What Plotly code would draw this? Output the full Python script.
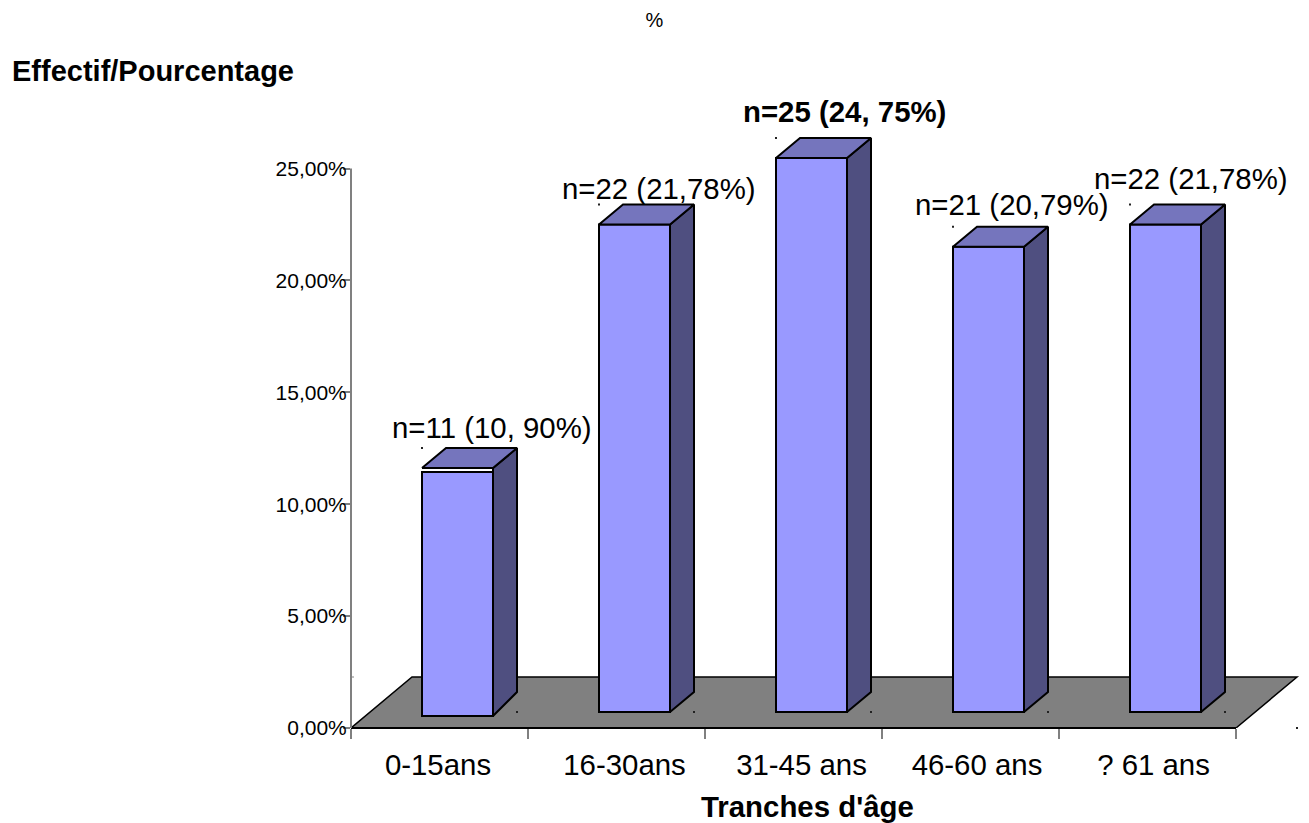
import plotly.graph_objects as go

# ---- data ----
categories = ["0-15ans", "16-30ans", "31-45 ans", "46-60 ans", "? 61 ans"]
percent = [10.90, 21.78, 24.75, 20.79, 21.78]
labels = ["n=11 (10, 90%)", "n=22 (21,78%)", "<b>n=25 (24, 75%)</b>", "n=21 (20,79%)", "n=22 (21,78%)"]
y_ticks = [0, 5, 10, 15, 20, 25]
y_tick_text = ["0,00%", "5,00%", "10,00%", "15,00%", "20,00%", "25,00%"]

# ---- geometry (pixels of the page and the 3D look) ----
W, H = 1309, 823
L, R, T, B = 351, 9, 112, 95
PX_PER_CAT = 177.0
PX_PER_PCT = 22.38
plot_w, plot_h = W - L - R, H - T - B
x_range = [-0.5, -0.5 + plot_w / PX_PER_CAT]
y_range = [0, plot_h / PX_PER_PCT]

bar_width = 71 / PX_PER_CAT
bar_offset = -17.5 / PX_PER_CAT
depth_x = 24 / PX_PER_CAT
depth_y = 20 / PX_PER_PCT
floor_x = 61 / PX_PER_CAT
floor_y = 51 / PX_PER_PCT
base_level = 16 / PX_PER_PCT          # bars stand in the middle of the floor
first_bar_drop = 4 / PX_PER_PCT       # the first front face sits slightly lower

label_dx = [34, 24, 33, 23, 25]
label_dy = [41, 36, 47, 42, 46]
tick_label_dx = [-1.5, 8, 8, 6.5, 6]

FRONT, SIDE, TOP, FLOOR = "#9999FF", "#4F4F80", "#7575BD", "#808080"
FONT = "Liberation Sans"
BIG = 29.4


def px_x(p):
    return (p - L) / plot_w


def px_y(p):
    return (H - B - p) / plot_h


fig = go.Figure()

bases = [base_level - (first_bar_drop if i == 0 else 0) for i in range(len(percent))]
fig.add_trace(go.Bar(
    x=categories, y=percent, base=bases, width=bar_width, offset=bar_offset,
    marker=dict(color=FRONT, line=dict(color="black", width=2)),
    hoverinfo="skip", showlegend=False,
))

side_x, side_y, top_x, top_y, dot_x, dot_y = [], [], [], [], [], []
for i, v in enumerate(percent):
    left = i + bar_offset
    right = left + bar_width
    top = base_level + v
    side_x += [right, right + depth_x, right + depth_x, right, right, None]
    side_y += [bases[i], base_level + depth_y, top + depth_y, top, bases[i], None]
    top_x += [left, left + depth_x, right + depth_x, right, left, None]
    top_y += [top, top + depth_y, top + depth_y, top, top, None]
    dot_x += [left, right + depth_x]
    dot_y += [top + depth_y, base_level]

for xs, ys, col in ((side_x, side_y, SIDE), (top_x, top_y, TOP)):
    fig.add_trace(go.Scatter(
        x=xs, y=ys, xaxis="x2", yaxis="y", mode="lines", fill="toself", fillcolor=col,
        line=dict(color="black", width=2), hoverinfo="skip", showlegend=False,
    ))

x0, x1 = -0.5, len(categories) - 0.5
dot_x += [x1 + floor_x]
dot_y += [0]
fig.add_trace(go.Scatter(
    x=dot_x, y=dot_y, xaxis="x2", yaxis="y", mode="markers", cliponaxis=False,
    marker=dict(color="#222222", size=2, symbol="square", line=dict(width=0)),
    hoverinfo="skip", showlegend=False,
))

floor_path = (f"M {x0} 0 L {x0 + floor_x} {floor_y} L {x1 + floor_x} {floor_y} "
              f"L {x1} 0 Z")
shapes = [
    dict(type="path", xref="x2", yref="y", path=floor_path, fillcolor=FLOOR,
         line=dict(color="black", width=1.5), layer="below"),
    dict(type="line", xref="x2", yref="paper", x0=x0, x1=x1, y0=0, y1=0,
         line=dict(color="black", width=2)),
    dict(type="line", xref="paper", yref="y", x0=0, x1=0, y0=0, y1=max(y_ticks),
         line=dict(color="#808080", width=2)),
    dict(type="line", xref="x2", yref="y", x0=x0, x1=x0 + 3 / PX_PER_CAT,
         y0=floor_y, y1=floor_y, line=dict(color="#808080", width=1)),
]

annotations = []
for i, (txt, dx, dy) in enumerate(zip(labels, label_dx, label_dy)):
    annotations.append(dict(
        xref="x2", yref="y", x=i + bar_offset + bar_width / 2, y=base_level + percent[i],
        xshift=dx, yshift=dy, text=txt, showarrow=False,
        font=dict(size=BIG, color="black", family=FONT),
        xanchor="center", yanchor="middle",
    ))
for txt, px, py, anchor, size in (
    ("<b>Effectif/Pourcentage</b>", 10, 71, "left", 29),
    ("<b>Tranches d'âge</b>", 807, 806, "center", BIG),
):
    annotations.append(dict(
        xref="paper", yref="paper", x=px_x(px), y=px_y(py), text=txt, showarrow=False,
        font=dict(size=size, color="black", family=FONT),
        xanchor=anchor, yanchor="middle",
    ))

fig.update_layout(
    width=W, height=H, autosize=False,
    margin=dict(l=L, r=R, t=T, b=B, pad=0),
    paper_bgcolor="white", plot_bgcolor="white",
    font=dict(family=FONT, color="black"),
    showlegend=False,
    title=dict(text="%", x=654.5 / W, y=1 - 20 / H, xanchor="center", yanchor="middle",
               xref="container", yref="container",
               font=dict(size=20, color="black", family=FONT)),
    xaxis=dict(
        type="category", categoryorder="array", categoryarray=categories,
        range=x_range, tickmode="linear", tick0=0, dtick=1, tickson="boundaries",
        ticks="outside", ticklen=10, tickwidth=2, tickcolor="#808080",
        showticklabels=False,
        showgrid=False, zeroline=False, showline=False,
    ),
    xaxis2=dict(
        overlaying="x", anchor="y", side="bottom", range=x_range,
        tickmode="array",
        tickvals=[i + d / PX_PER_CAT for i, d in enumerate(tick_label_dx)],
        ticktext=categories, ticks="", ticklabelstandoff=17,
        showgrid=False, zeroline=False, showline=False,
        tickfont=dict(size=BIG, color="black", family=FONT),
    ),
    yaxis=dict(
        range=y_range, tickmode="array", tickvals=y_ticks, ticktext=y_tick_text,
        ticks="outside", ticklen=7, tickwidth=1.5, tickcolor="#808080",
        ticklabelstandoff=-8,
        showgrid=False, zeroline=False, showline=False,
        tickfont=dict(size=21, color="black", family=FONT),
    ),
    shapes=shapes,
    annotations=annotations,
)

fig.write_html("out.html", config=dict(displayModeBar=False),
               post_script="document.body.style.margin='0';")
